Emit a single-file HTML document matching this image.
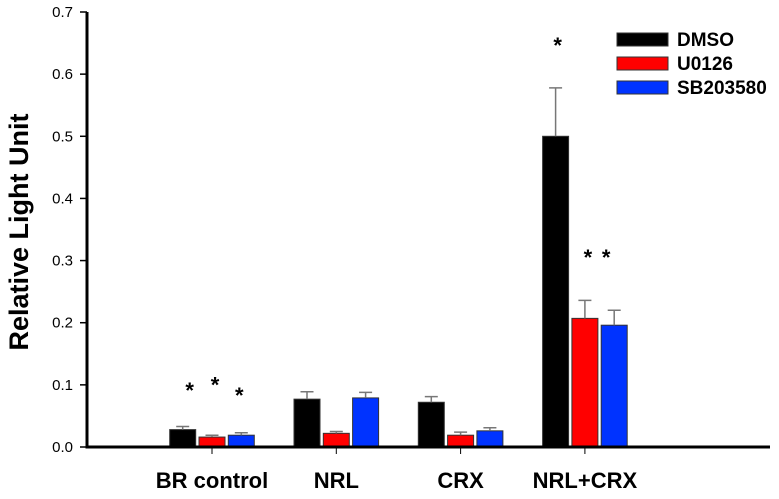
<!DOCTYPE html>
<html><head><meta charset="utf-8"><style>
body{margin:0;background:#fff}
svg{display:block;font-family:"Liberation Sans",Arial,sans-serif}
</style></head><body>
<svg id="chart" width="779" height="499" viewBox="0 0 779 499"></svg>
<script>
const categories = ["BR control","NRL","CRX","NRL+CRX"];
const seriesNames = ["DMSO","U0126","SB203580"];
const dmso = [0.028,0.077,0.072,0.500];
const u0126 = [0.016,0.022,0.019,0.207];
const sb = [0.019,0.079,0.026,0.196];
const dmsoErr = [0.005,0.012,0.009,0.078];
const u0126Err = [0.003,0.003,0.005,0.029];
const sbErr = [0.004,0.009,0.005,0.024];
const yTicks = ["0.0","0.1","0.2","0.3","0.4","0.5","0.6","0.7"];
const stars = [[0.100,0.109,0.092],[null,null,null],[null,null,null],[0.655,0.314,0.314]];
const starDx = [[7,3,-2],[0,0,0],[0,0,0],[2,3,-8]];
const colors = ["#000","#ff0000","#0033ff"];
const series=[dmso,u0126,sb], errs=[dmsoErr,u0126Err,sbErr];
const NS="http://www.w3.org/2000/svg", svg=document.getElementById('chart');
const x0=87,y0=447,yTop=12;
const y=v=>y0-(v/0.7)*(y0-yTop);
const gx=i=>212+i*124.3;
function mk(t,a,p){const e=document.createElementNS(NS,t);for(const k in a)e.setAttribute(k,a[k]);(p||svg).appendChild(e);return e;}
categories.forEach((c,i)=>{
  series.forEach((s,j)=>{
    const cx=gx(i)+(j-1)*29.3, w=26;
    const r=mk('rect',{x:cx-w/2,y:y(s[i]),width:w,height:y0-y(s[i]),fill:colors[j],stroke:'#333','stroke-width':1});
    
    
    const top=y(s[i]+errs[j][i]);
    const e=mk('path',{d:`M${cx} ${y(s[i])}V${top}M${cx-6.5} ${top}H${cx+6.5}`,stroke:'#777','stroke-width':1.5,fill:'none'});
    
    
    if(stars[i][j]!=null){
      const t=mk('text',{x:cx+starDx[i][j],y:y(stars[i][j])+13,'font-size':22,'font-weight':'bold','text-anchor':'middle'});
      t.textContent='*';
      
      
    }
  });
  const tk=mk('line',{x1:gx(i),x2:gx(i),y1:y0,y2:y0+7,stroke:'#000','stroke-width':1});
  
  
  const l=mk('text',{x:gx(i),y:488,'font-size':22,'font-weight':'bold','text-anchor':'middle'});
  l.textContent=c;
  
  
});
yTicks.forEach((t,i)=>{
  const v=parseFloat(t), yy=y(v);
  const tl=mk('line',{x1:x0-7,x2:x0,y1:yy,y2:yy,stroke:'#000','stroke-width':1.5});
  
  
  const tx=mk('text',{x:x0-14,y:yy+5,'font-size':15,'text-anchor':'end'});
  tx.textContent=t;
  
  
});
const ax=mk('path',{d:`M${x0} ${yTop}V${y0}H770`,stroke:'#000','stroke-width':3,fill:'none'});


const yt=mk('text',{x:0,y:0,'font-size':27,'font-weight':'bold','text-anchor':'middle',transform:'translate(28,232) rotate(-90)'});
yt.textContent='Relative Light Unit';


seriesNames.forEach((n,j)=>{
  const yy=33+j*24;
  const r=mk('rect',{x:617,y:yy,width:51,height:13,fill:colors[j],stroke:'#333','stroke-width':1});
  
  
  const t=mk('text',{x:677,y:yy+13,'font-size':19,'font-weight':'bold'});
  t.textContent=n;
  
  
});
</script>
</body></html>
